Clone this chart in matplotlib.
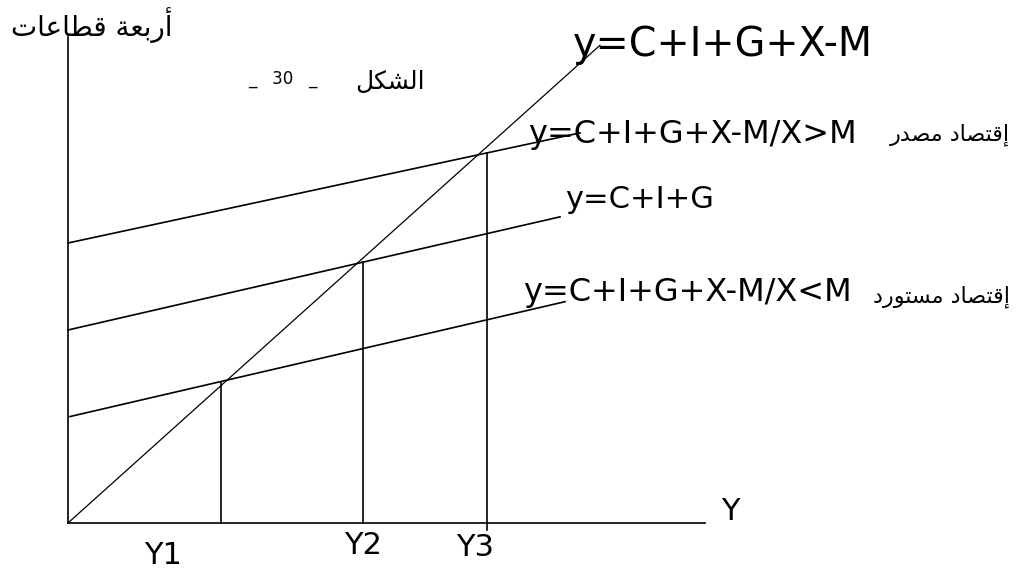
import matplotlib
matplotlib.use("Agg")
import matplotlib.pyplot as plt

# Diagram values (units = pixels of the original sketch, origin at the axes corner)
slope_45 = 0.898          # the 45 degree line y = C+I+G+X-M
x_end_45 = 532

# parallel lines: importing economy, closed (C+I+G), exporting economy
line_names = ["import", "domestic", "export"]
intercepts = [106, 193, 280]
slopes = [0.232, 0.230, 0.215]
x_starts = [2, 0, 0]
x_ends = [497, 492, 512]

# equilibrium incomes Y1, Y2, Y3
eq_x = [153, 295, 419]
eq_labels = ["Y1", "Y2", "Y3"]
eq_bottom = [0, 0, -7]

axis_x_len = 637
axis_y_len = 486

# Arabic letters -> presentation forms (isolated, final, initial, medial)
FORMS = {
    '\u0627': ('\uFE8D', '\uFE8E', None, None),
    '\u0623': ('\uFE83', '\uFE84', None, None),
    '\u0625': ('\uFE87', '\uFE88', None, None),
    '\u0628': ('\uFE8F', '\uFE90', '\uFE91', '\uFE92'),
    '\u0629': ('\uFE93', '\uFE94', None, None),
    '\u062A': ('\uFE95', '\uFE96', '\uFE97', '\uFE98'),
    '\u062F': ('\uFEA9', '\uFEAA', None, None),
    '\u0631': ('\uFEAD', '\uFEAE', None, None),
    '\u0633': ('\uFEB1', '\uFEB2', '\uFEB3', '\uFEB4'),
    '\u0634': ('\uFEB5', '\uFEB6', '\uFEB7', '\uFEB8'),
    '\u0635': ('\uFEB9', '\uFEBA', '\uFEBB', '\uFEBC'),
    '\u0637': ('\uFEC1', '\uFEC2', '\uFEC3', '\uFEC4'),
    '\u0639': ('\uFEC9', '\uFECA', '\uFECB', '\uFECC'),
    '\u0642': ('\uFED5', '\uFED6', '\uFED7', '\uFED8'),
    '\u0643': ('\uFED9', '\uFEDA', '\uFEDB', '\uFEDC'),
    '\u0644': ('\uFEDD', '\uFEDE', '\uFEDF', '\uFEE0'),
    '\u0645': ('\uFEE1', '\uFEE2', '\uFEE3', '\uFEE4'),
    '\u0648': ('\uFEED', '\uFEEE', None, None),
}


def shape(word):
    out = []
    for i, ch in enumerate(word):
        f = FORMS.get(ch)
        if f is None:
            out.append(ch)
            continue
        prev = word[i - 1] if i > 0 else ''
        nxt = word[i + 1] if i + 1 < len(word) else ''
        join_prev = prev in FORMS and FORMS[prev][2] is not None
        join_next = f[2] is not None and nxt in FORMS
        if join_prev and join_next:
            out.append(f[3])
        elif join_prev:
            out.append(f[1])
        elif join_next:
            out.append(f[2])
        else:
            out.append(f[0])
    return ''.join(out)


def rtl(text):
    # shape every word then reverse for left-to-right drawing
    return ' '.join(shape(w) for w in text.split(' '))[::-1]


fig = plt.figure(figsize=(10.2, 5.76), dpi=100)
ax = fig.add_axes([0, 0, 1, 1])
ax.set_xlim(-68, 952)
ax.set_ylim(-53, 523)
ax.axis('off')

lw = 1.2
col = 'black'

# axes
ax.plot([0, 0], [0, axis_y_len], color=col, lw=lw)
ax.plot([0, axis_x_len], [0, 0], color=col, lw=lw)

# 45 degree line
ax.plot([0, x_end_45], [0, slope_45 * x_end_45], color=col, lw=0.9)

# expenditure lines
for a, b, x0, x1 in zip(intercepts, slopes, x_starts, x_ends):
    ax.plot([x0, x1], [a + b * x0, a + b * x1], color=col, lw=lw)

# vertical lines at the equilibria
for xe, a, b, yb in zip(eq_x, intercepts, slopes, eq_bottom):
    ax.plot([xe, xe], [yb, a + b * xe], color=col, lw=lw)

# labels
latin = 'DejaVu Sans'
ax.text(505, 478, 'y=C+I+G+X-M', fontsize=28.5, family=latin, ha='left', va='center')
ax.text(460, 389, 'y=C+I+G+X-M/X>M', fontsize=23, family=latin, ha='left', va='center')
ax.text(497, 323, 'y=C+I+G', fontsize=22, family=latin, ha='left', va='center')
ax.text(455, 230, 'y=C+I+G+X-M/X<M', fontsize=23, family=latin, ha='left', va='center')

ax.text(942, 388, rtl('إقتصاد مصدر'), fontsize=16, family=latin, ha='right', va='center')
ax.text(942, 226, rtl('إقتصاد مستورد'), fontsize=16, family=latin, ha='right', va='center')
ax.text(24, 498, rtl('أربعة قطاعات'), fontsize=20, family=latin, ha='center', va='center')
ax.text(357, 441, rtl('الشكل'), fontsize=18, family=latin, ha='right', va='center')
ax.text(215, 444, '_   30   _', fontsize=12, family=latin, ha='center', va='center')

label_dx = [-58, 0, -12]
label_dy = [-32, -22, -25]
for xe, lab, dx, dy in zip(eq_x, eq_labels, label_dx, label_dy):
    ax.text(xe + dx, dy, lab, fontsize=22, family=latin, ha='center', va='center')
ax.text(662, 11, 'Y', fontsize=22, family=latin, ha='center', va='center')

plt.savefig('out.png', dpi=100)
